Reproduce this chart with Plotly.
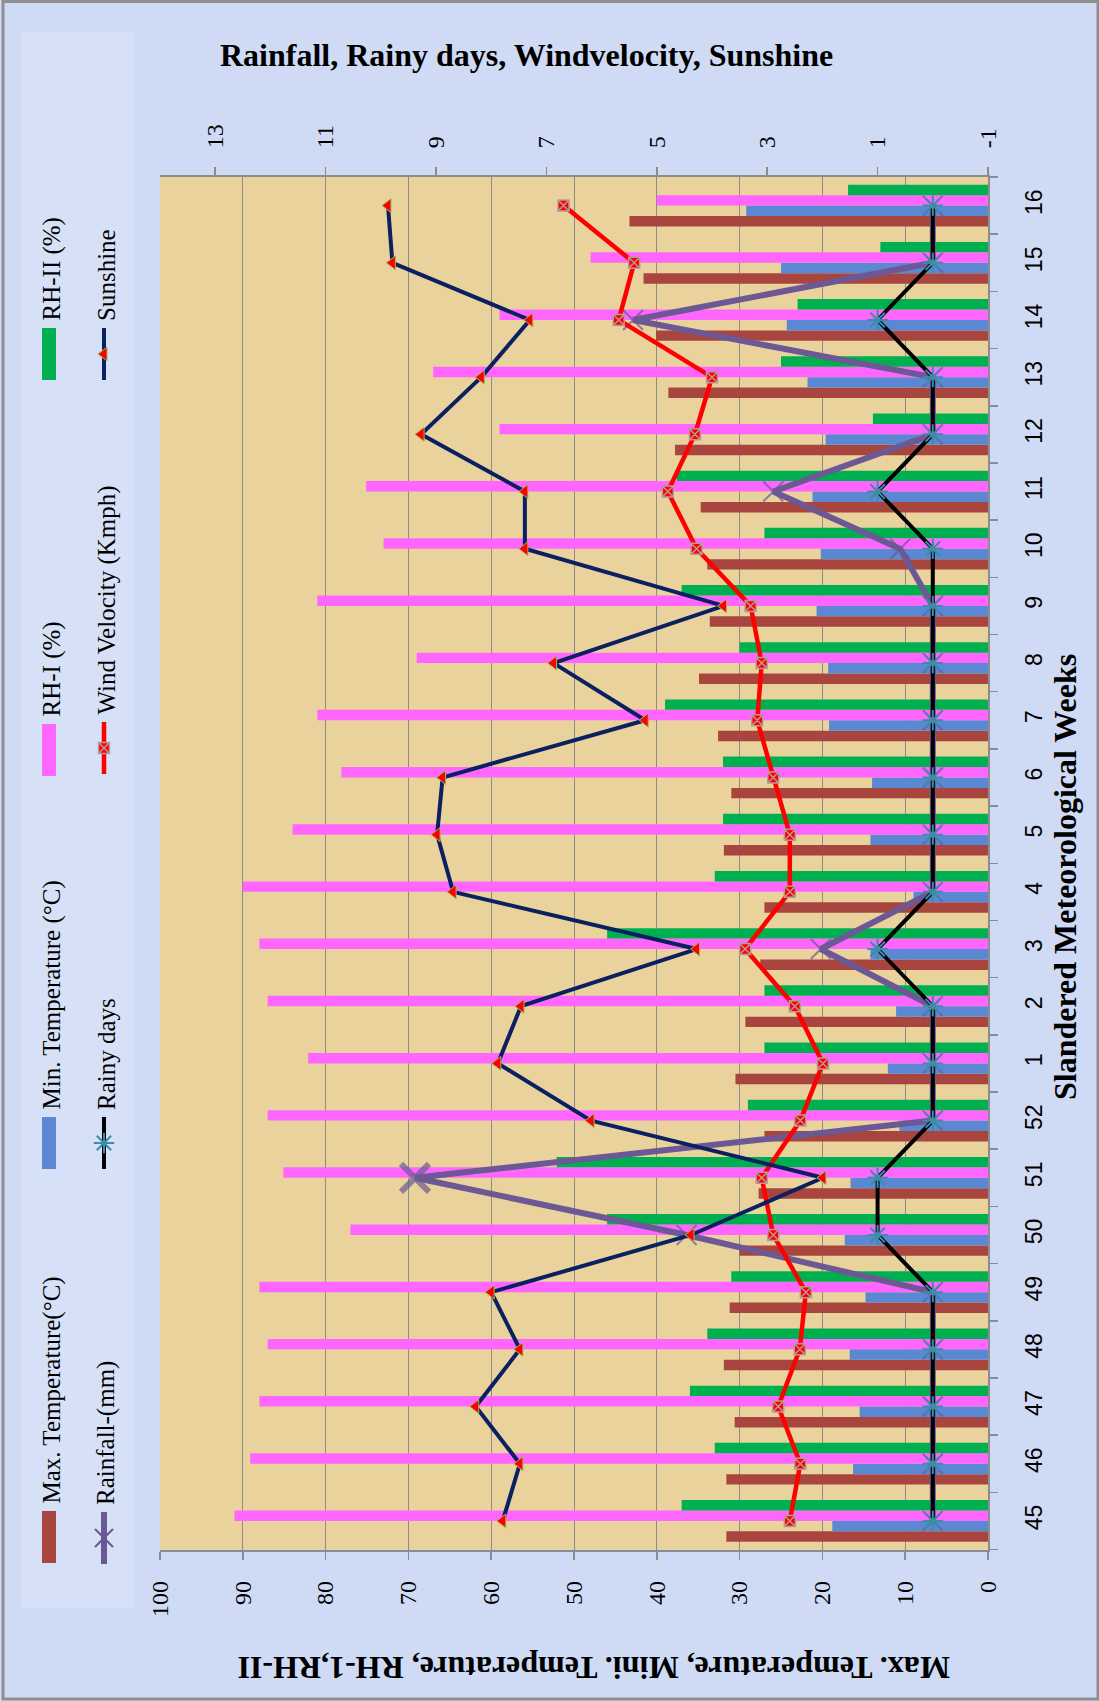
import plotly.graph_objects as go

# ---------------- data ----------------
weeks = ["45", "46", "47", "48", "49", "50", "51", "52", "1", "2", "3", "4",
         "5", "6", "7", "8", "9", "10", "11", "12", "13", "14", "15", "16"]

max_temp = [31.6, 31.6, 30.6, 31.9, 31.2, 30.0, 27.7, 27.0, 30.5, 29.3, 27.5, 27.0,
            31.9, 31.0, 32.6, 34.9, 33.6, 33.9, 34.7, 37.8, 38.6, 40.1, 41.6, 43.3]
min_temp = [18.8, 16.3, 15.5, 16.7, 14.8, 17.3, 16.6, 10.7, 12.1, 11.1, 14.2, 9.0,
            14.2, 14.0, 19.2, 19.3, 20.7, 20.2, 21.2, 19.6, 21.8, 24.3, 25.0, 29.2]
rh_1 = [91.0, 89.1, 88.0, 87.0, 88.0, 77.0, 85.1, 87.0, 82.1, 87.0, 88.0, 90.0,
        84.0, 78.1, 81.0, 69.0, 81.0, 73.0, 75.1, 59.0, 67.0, 59.0, 48.0, 40.0]
rh_2 = [37.0, 33.0, 36.0, 33.9, 31.0, 46.0, 52.1, 29.0, 27.0, 27.0, 46.0, 33.0,
        32.0, 32.0, 39.0, 30.0, 37.0, 27.0, 37.6, 13.9, 25.0, 23.0, 13.0, 16.9]
rainfall = [0, 0, 0, 0, 0, 4.46, 9.38, 0, 0, 0, 2.03, 0,
            0, 0, 0, 0, 0, 0.59, 2.89, 0, 0, 5.43, 0, 0]
rainy_days = [0, 0, 0, 0, 0, 1, 1, 0, 0, 0, 1, 0,
              0, 0, 0, 0, 0, 0, 1, 0, 0, 1, 0, 0]
wind = [2.59, 2.40, 2.80, 2.41, 2.30, 2.89, 3.10, 2.40, 1.99, 2.50, 3.40, 2.59,
        2.59, 2.89, 3.18, 3.10, 3.30, 4.28, 4.80, 4.31, 4.00, 5.69, 5.41, 6.69]
sunshine = [7.79, 7.48, 8.28, 7.48, 8.00, 4.38, 1.99, 6.19, 7.88, 7.46, 4.28, 8.69,
            8.98, 8.88, 5.21, 6.87, 3.79, 7.39, 7.39, 9.27, 8.18, 7.30, 9.79, 9.87]

prim_ticks = [0, 10, 20, 30, 40, 50, 60, 70, 80, 90, 100]
sec_tickvals = [-1, 1, 3, 5, 7, 9, 11, 13]
sec_ticktext = ["-1", "1", "3", "5", "7", "9", "11", "13"]

bar_names = ["Max. Temperature(°C)", "Min. Temperature (°C)", "RH-I (%)", "RH-II (%)"]
line_names = ["Rainfall-(mm)", "Rainy days", "Wind Velocity (Kmph)", "Sunshine"]

title_top = "Rainfall, Rainy days, Windvelocity, Sunshine"
title_bottom = "Max. Temperature, Mini. Temperature, RH-1,RH-II"
title_right = "Slandered Meteorological Weeks"

# ---------------- styles ----------------
W, H = 1099, 1701
BROWN, BLUE, PINK, GREEN = "#A8453F", "#5A88D2", "#FF66FF", "#00B050"
PURPLE, BLACK, RED, NAVY = "#6B5894", "#000000", "#FF0000", "#0A2060"
TEAL = "#3C8DA8"
GRID = "#8C8C8C"
SERIF = "Liberation Serif"
SANS = "Liberation Sans"

PX0, PX1, PY0, PY1 = 160.0, 988.0, 177.0, 1549.5  # plot area in pixels


def px(x):
    return x / W


def py(y):
    return 1 - y / H


fig = go.Figure()

bar_series = [(bar_names[0], max_temp, BROWN), (bar_names[1], min_temp, BLUE),
              (bar_names[2], rh_1, PINK), (bar_names[3], rh_2, GREEN)]
for name, vals, col in bar_series:
    fig.add_trace(go.Bar(
        name=name, y=weeks, x=vals, orientation="h",
        marker=dict(color=col, line=dict(width=0)),
        xaxis="x", yaxis="y", showlegend=False))

# marker styles (peak rainfall marker drawn bolder, as in the original)
is_peak = [v == max(rainfall) for v in rainfall]
rain_sizes = [28 if p else 20 for p in is_peak]
rain_lw = [6 if p else 2 for p in is_peak]

m_rain = dict(symbol="x-thin-open", size=rain_sizes, color=PURPLE,
              line=dict(color=PURPLE, width=rain_lw))
m_rainy = dict(symbol="asterisk-open", size=17, color=TEAL, line=dict(color=TEAL, width=2))
m_wind = dict(symbol="square-x", size=11, color=RED, line=dict(color="#B49A9A", width=1.5))
m_sun = dict(symbol="triangle-left", size=12, color=RED, line=dict(color="#9BBB59", width=1))

line_series = [
    (line_names[0], rainfall, PURPLE, 6, m_rain),
    (line_names[1], rainy_days, BLACK, 4, m_rainy),
    (line_names[2], wind, RED, 4.5, m_wind),
    (line_names[3], sunshine, NAVY, 4, m_sun),
]
for name, vals, col, lw, mk in line_series:
    fig.add_trace(go.Scatter(
        name=name, y=weeks, x=vals, mode="lines+markers",
        line=dict(color=col, width=lw), marker=mk,
        xaxis="x2", yaxis="y", showlegend=False, cliponaxis=False))

# ---------------- custom rotated legend ----------------
LEG_X3 = 0.14 * W
col1_x, col2_x = 49.0, 104.0
bar_leg_cy = [1537, 1143, 750, 354]
line_leg_cy = [1538, 1143, 748, 354]
half = 26

shapes = []
annotations = []

# legend box
shapes.append(dict(type="rect", xref="paper", yref="paper",
                   x0=px(21), x1=px(134), y0=py(1608), y1=py(32),
                   fillcolor="#D6E1F7", line=dict(width=0), layer="below"))
# plot area background
shapes.append(dict(type="rect", xref="x domain", yref="y domain",
                   x0=0, x1=1, y0=0, y1=1, fillcolor="#EAD29C",
                   line=dict(width=0), layer="below"))
# outer frame
shapes.append(dict(type="rect", xref="paper", yref="paper",
                   x0=px(3), x1=px(1098), y0=py(1699), y1=py(1.5),
                   fillcolor="rgba(0,0,0,0)", line=dict(color="#8E8E8E", width=3)))

for (name, vals, col), cy in zip(bar_series, bar_leg_cy):
    shapes.append(dict(type="rect", xref="paper", yref="paper",
                       x0=px(col1_x - 7), x1=px(col1_x + 7),
                       y0=py(cy + half), y1=py(cy - half),
                       fillcolor=col, line=dict(width=0)))
    annotations.append(dict(text=name, x=px(col1_x + 2), y=py(cy - half - 5),
                            xref="paper", yref="paper", xanchor="center", yanchor="bottom",
                            textangle=-90, showarrow=False,
                            font=dict(family=SERIF, size=25, color="black")))

for (name, vals, col, lw, mk), cy in zip(line_series, line_leg_cy):
    fig.add_trace(go.Scatter(
        x=[col2_x, col2_x], y=[cy - half, cy + half], mode="lines",
        line=dict(color=col, width=lw), xaxis="x3", yaxis="y3",
        showlegend=False, hoverinfo="skip"))
    lm = dict(mk)
    if isinstance(lm["size"], list):
        lm["size"] = 18
        lm["line"] = dict(color=PURPLE, width=2)
    fig.add_trace(go.Scatter(
        x=[col2_x], y=[cy], mode="markers", marker=lm, xaxis="x3", yaxis="y3",
        showlegend=False, hoverinfo="skip"))
    annotations.append(dict(text=name, x=px(col2_x + 2), y=py(cy - half - 5),
                            xref="paper", yref="paper", xanchor="center", yanchor="bottom",
                            textangle=-90, showarrow=False,
                            font=dict(family=SERIF, size=25, color="black")))

# titles
annotations.append(dict(text="<b>%s</b>" % title_top, x=px(526), y=py(55),
                        xref="paper", yref="paper", xanchor="center", yanchor="middle",
                        showarrow=False, font=dict(family=SERIF, size=32, color="black")))
annotations.append(dict(text="<b>%s</b>" % title_bottom, x=px(594), y=py(1668),
                        xref="paper", yref="paper", xanchor="center", yanchor="middle",
                        textangle=180, showarrow=False,
                        font=dict(family=SERIF, size=32, color="black")))
annotations.append(dict(text="<b>%s</b>" % title_right, x=px(1065), y=py(877),
                        xref="paper", yref="paper", xanchor="center", yanchor="middle",
                        textangle=-90, showarrow=False,
                        font=dict(family=SERIF, size=32, color="black")))

fig.update_layout(
    width=W, height=H,
    margin=dict(l=0, r=0, t=0, b=0, pad=0, autoexpand=False),
    paper_bgcolor="#CFDAF4",
    plot_bgcolor="rgba(0,0,0,0)",
    barmode="group", bargap=0.27, bargroupgap=0,
    showlegend=False,
    hovermode=False,
    xaxis=dict(domain=[px(PX0), px(PX1)], anchor="y", range=[100, 0],
               tickvals=prim_ticks, ticktext=[str(v) for v in prim_ticks],
               showgrid=True, gridcolor=GRID, gridwidth=1, zeroline=False,
               showline=True, linecolor=GRID, linewidth=2, automargin=False,
               ticks="outside", ticklen=8, tickcolor=GRID, tickwidth=1.5,
               tickangle=-90, ticklabelstandoff=12,
               tickfont=dict(family=SERIF, size=24, color="black"), fixedrange=True),
    xaxis2=dict(overlaying="x", anchor="y", side="top", range=[14, -1],
                tickvals=sec_tickvals, ticktext=sec_ticktext,
                showgrid=False, zeroline=False, automargin=False,
                showline=True, linecolor=GRID, linewidth=2,
                ticks="outside", ticklen=8, tickcolor=GRID, tickwidth=1.5,
                tickangle=-90, ticklabelstandoff=14,
                tickfont=dict(family=SERIF, size=24, color="black")),
    yaxis=dict(domain=[py(PY1), py(PY0)], anchor="x", side="right",
               type="category", categoryorder="array", categoryarray=weeks,
               range=[-0.5, len(weeks) - 0.5], automargin=False,
               showgrid=False, zeroline=False,
               showline=True, linecolor=GRID, linewidth=2,
               ticks="outside", tickson="boundaries", ticklen=8, tickcolor=GRID, tickwidth=1.5,
               tickangle=-90, ticklabelstandoff=24,
               tickfont=dict(family=SANS, size=23, color="black")),
    xaxis3=dict(domain=[0, 0.14], anchor="y3", range=[0, LEG_X3], visible=False,
                fixedrange=True, automargin=False),
    yaxis3=dict(domain=[0, 1], anchor="x3", range=[H, 0], visible=False,
                fixedrange=True, automargin=False),
    shapes=shapes,
    annotations=annotations,
)

page_fix = ("document.documentElement.style.margin='0';document.body.style.margin='0';"
            "document.body.style.padding='0';document.documentElement.style.overflow='hidden';"
            "document.body.style.overflow='hidden';")
fig.write_html("out.html", post_script=page_fix,
               config={"displayModeBar": False, "staticPlot": True})
